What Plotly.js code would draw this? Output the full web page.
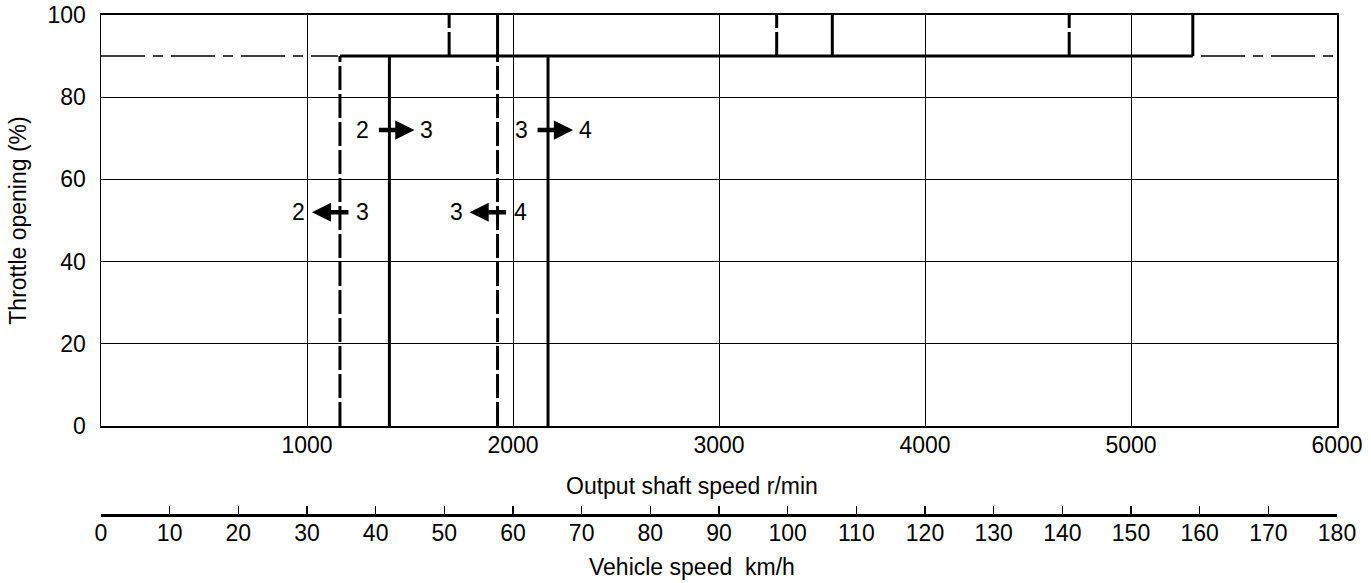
<!DOCTYPE html>
<html>
<head>
<meta charset="utf-8">
<script src="https://cdn.plot.ly/plotly-3.0.1.min.js"></script>
<style>html,body{margin:0;padding:0;background:#fff;}#chart{width:1371px;height:583px;}</style>
</head>
<body>
<div id="chart"></div>
<script>
// ---- data ----
const throttleTicks = [0, 20, 40, 60, 80, 100];
const shaftTicks = [1000, 2000, 3000, 4000, 5000, 6000];
const vehicleTicks = [0, 10, 20, 30, 40, 50, 60, 70, 80, 90, 100, 110, 120, 130, 140, 150, 160, 170, 180];

const fullThrottle = 90;          // % throttle where kickdown zone begins
const wideOpen = 100;
const upshiftSpeeds = [1400, 2170];        // 2->3, 3->4 (solid, 0..90 %)
const downshiftSpeeds = [1160, 1925];      // 3->2, 4->3 (dashed, 0..90 %)
const kickdownDashSpeeds = [1690, 3280, 4700];  // dashed, 90..100 %
const kickdownSolidSpeeds = [1925, 3550, 5300]; // solid, 90..100 %
const fullThrottleSpan = [1160, 5300];           // thick line at 90 %
const partLineLeft = [0, 1150];                  // dash-dot at 90 %
const partLineRight = [5340, 6000];

const arrowSpeeds = [1400, 2170, 1160, 1925];
const arrowLevels = [72, 72, 52, 52];
const arrowFrom = ['2', '3', '2', '3'];
const arrowTo = ['3', '4', '3', '4'];
const arrowDir = [1, 1, -1, -1];

const shaftTitle = 'Output shaft speed r/min';
const vehicleTitle = 'Vehicle speed&nbsp; km/h';
const throttleTitle = 'Throttle opening (%)';

// ---- build traces ----
function verticals(speeds, y0, y1) {
  const x = [], y = [];
  speeds.forEach(s => { x.push(s, s, null); y.push(y0, y1, null); });
  return {x, y};
}
const dashA = verticals(downshiftSpeeds, 0, fullThrottle);
const dashB = verticals(kickdownDashSpeeds, fullThrottle, wideOpen);
const solA = verticals(upshiftSpeeds, 0, fullThrottle);
const solB = verticals(kickdownSolidSpeeds, fullThrottle, wideOpen);

const FONT = '"Liberation Sans", Arial, Helvetica, sans-serif';
const TICKSIZE = 23;
const TITLESIZE = 23;

const traces = [
  {x: dashA.x.concat(dashB.x), y: dashA.y.concat(dashB.y), mode: 'lines',
   line: {color: '#000', width: 3, dash: '24px,4px'}, hoverinfo: 'skip', showlegend: false},
  {x: solA.x.concat(solB.x, fullThrottleSpan), y: solA.y.concat(solB.y, [fullThrottle, fullThrottle]), mode: 'lines',
   line: {color: '#000', width: 3}, hoverinfo: 'skip', showlegend: false},
  {x: partLineLeft.concat([null], partLineRight), y: [fullThrottle, fullThrottle, null, fullThrottle, fullThrottle],
   mode: 'lines', line: {color: '#000', width: 1.5, dash: '44px,8px,10px,8px'}, hoverinfo: 'skip', showlegend: false},
  {x: [null], y: [null], xaxis: 'x2', yaxis: 'y2', mode: 'lines', hoverinfo: 'skip', showlegend: false}
];

// ---- arrow annotations ----
const annotations = [];
arrowSpeeds.forEach((s, i) => {
  const right = arrowDir[i] > 0;
  const head = right ? 25 : -28;
  const tail = right ? -12 : 10;
  const lab1 = right ? -27 : -41;
  const lab2 = right ? 37 : 23;
  annotations.push({x: s, y: arrowLevels[i], xref: 'x', yref: 'y', text: '', showarrow: true,
    xshift: head, ax: tail - head, ay: 0, arrowhead: 2, arrowsize: 0.85, arrowwidth: 4.5,
    arrowcolor: '#000', standoff: 0, startstandoff: 0});
  annotations.push({x: s, y: arrowLevels[i], xref: 'x', yref: 'y', text: arrowFrom[i], showarrow: false,
    xshift: lab1, font: {family: FONT, size: TICKSIZE, color: '#000'}});
  annotations.push({x: s, y: arrowLevels[i], xref: 'x', yref: 'y', text: arrowTo[i], showarrow: false,
    xshift: lab2, font: {family: FONT, size: TICKSIZE, color: '#000'}});
});
// axis titles placed under the two horizontal scales
annotations.push({xref: 'paper', yref: 'paper', x: 0.478, y: 0.056, xanchor: 'center', yanchor: 'middle',
  text: shaftTitle, showarrow: false, font: {family: FONT, size: TITLESIZE, color: '#000'}});
annotations.push({xref: 'paper', yref: 'paper', x: 0.478, y: -0.106, xanchor: 'center', yanchor: 'middle',
  text: vehicleTitle, showarrow: false, font: {family: FONT, size: TITLESIZE, color: '#000'}});

const layout = {
  width: 1371, height: 583,
  margin: {l: 101, r: 34, t: 15, b: 69},
  paper_bgcolor: '#fff', plot_bgcolor: '#fff',
  font: {family: FONT, size: TICKSIZE, color: '#000'},
  showlegend: false,
  xaxis: {range: [0, 6000], anchor: 'y', tickvals: shaftTicks, ticktext: shaftTicks.map(String),
    showgrid: true, gridcolor: '#000', gridwidth: 1, zeroline: false,
    showline: true, linecolor: '#000', linewidth: 2, mirror: true, ticks: '', ticklabelstandoff: -3,
    tickfont: {family: FONT, size: TICKSIZE, color: '#000'}},
  yaxis: {range: [0, 100], domain: [0.1764, 1], anchor: 'x', tickvals: throttleTicks, ticktext: throttleTicks.map(String),
    showgrid: true, gridcolor: '#000', gridwidth: 1, zeroline: false,
    showline: true, linecolor: '#000', linewidth: 1.5, mirror: true, ticks: '', ticklabelstandoff: 9,
    tickfont: {family: FONT, size: TICKSIZE, color: '#000'},
    title: {text: throttleTitle, standoff: 14, font: {family: FONT, size: TITLESIZE, color: '#000'}}},
  xaxis2: {range: [0, 180], anchor: 'y2', tickvals: vehicleTicks, ticktext: vehicleTicks.map(String),
    showgrid: false, zeroline: false, showline: true, linecolor: '#000', linewidth: 2.5,
    ticks: 'inside', ticklen: 8, tickwidth: 1.5, tickcolor: '#000', ticklabelstandoff: -3,
    tickfont: {family: FONT, size: TICKSIZE, color: '#000'}},
  yaxis2: {domain: [0, 0.002], anchor: 'x2', range: [0, 1], visible: false},
  annotations: annotations
};

Plotly.newPlot('chart', traces, layout, {staticPlot: true, displayModeBar: false});
</script>
</body>
</html>
